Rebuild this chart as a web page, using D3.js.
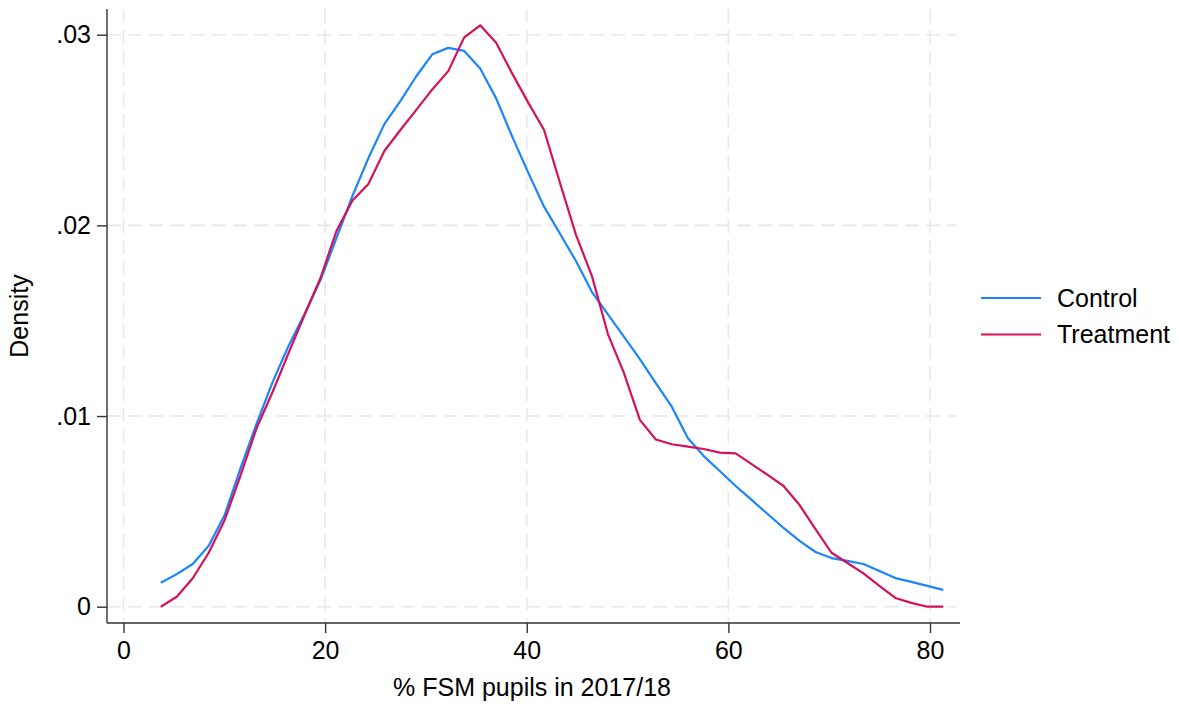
<!DOCTYPE html>
<html>
<head>
<meta charset="utf-8">
<script src="https://cdn.jsdelivr.net/npm/d3@7"></script>
<style>
  html, body { margin: 0; padding: 0; background: #fff; }
  svg { display: block; font-family: "Liberation Sans", Arial, sans-serif; }
</style>
</head>
<body>
<svg id="chart" width="1179" height="704"></svg>
<script>
// Kernel density estimates evaluated on a common grid of 50 points
const gridStart = 3.7;
const gridStep = 1.584;
const gridCount = 50;

const controlDensity = [
  0.00126, 0.00171, 0.00224, 0.00320, 0.00481, 0.00728, 0.00960, 0.01178, 0.01367, 0.01535,
  0.01713, 0.01933, 0.02154, 0.02353, 0.02531, 0.02652, 0.02782, 0.02897, 0.02931, 0.02915,
  0.02823, 0.02666, 0.02467, 0.02278, 0.02098, 0.01956, 0.01813, 0.01650, 0.01533, 0.01416,
  0.01299, 0.01173, 0.01049, 0.00885, 0.00790, 0.00712, 0.00633, 0.00560, 0.00486, 0.00413,
  0.00345, 0.00287, 0.00255, 0.00240, 0.00224, 0.00187, 0.00150, 0.00130, 0.00109, 0.00088
];

const treatmentDensity = [
  0.00000, 0.00052, 0.00149, 0.00283, 0.00455, 0.00690, 0.00937, 0.01126, 0.01330, 0.01530,
  0.01724, 0.01970, 0.02130, 0.02217, 0.02390, 0.02500, 0.02606, 0.02713, 0.02809, 0.02986,
  0.03049, 0.02958, 0.02797, 0.02645, 0.02500, 0.02222, 0.01950, 0.01734, 0.01430, 0.01226,
  0.00980, 0.00877, 0.00852, 0.00840, 0.00827, 0.00808, 0.00804, 0.00748, 0.00691, 0.00633,
  0.00533, 0.00407, 0.00283, 0.00229, 0.00175, 0.00109, 0.00046, 0.00020, 0.00000, 0.00000
];

const xTicks = [0, 20, 40, 60, 80];
const yTicks = [0, 0.01, 0.02, 0.03];
const yTickLabels = ["0", ".01", ".02", ".03"];
const seriesNames = ["Control", "Treatment"];
const seriesColors = ["#1A85FF", "#D41159"];

const svg = d3.select("#chart");

// Plot region
const plot = { left: 107, right: 960, top: 9, bottom: 623 };

const x = d3.scaleLinear().domain([0, 80]).range([123.5, 930]);
const y = d3.scaleLinear().domain([0, 0.03]).range([606.7, 34.7]);

const gridX = d3.range(gridCount).map(i => gridStart + gridStep * i);

// Grid lines
const grid = svg.append("g").attr("stroke", "#e8e8e8").attr("stroke-width", 1.6)
  .attr("stroke-dasharray", "14,7");
grid.selectAll("line.h").data(yTicks).join("line")
  .attr("x1", plot.left).attr("x2", 956)
  .attr("y1", d => y(d)).attr("y2", d => y(d));
grid.selectAll("line.v").data(xTicks).join("line")
  .attr("x1", d => x(d)).attr("x2", d => x(d))
  .attr("y1", plot.top).attr("y2", plot.bottom);

// Density curves
const line = d3.line().x((d, i) => x(gridX[i])).y(d => y(d));
[controlDensity, treatmentDensity].forEach((series, k) => {
  svg.append("path")
    .datum(series)
    .attr("fill", "none")
    .attr("stroke", seriesColors[k])
    .attr("stroke-width", 2.2)
    .attr("stroke-linejoin", "round")
    .attr("d", line);
});

// Axes
const xAxis = d3.axisBottom(x).tickValues(xTicks).tickSize(10).tickPadding(8).tickFormat(d3.format("d"));
const yAxis = d3.axisLeft(y).tickValues(yTicks).tickSize(10).tickPadding(6)
  .tickFormat((d, i) => yTickLabels[i]);

const gx = svg.append("g").attr("transform", `translate(0,${plot.bottom})`).call(xAxis);
const gy = svg.append("g").attr("transform", `translate(${plot.left},0)`).call(yAxis);

[gx, gy].forEach(g => {
  g.select(".domain").remove();
  g.selectAll(".tick line").attr("stroke", "#333").attr("stroke-width", 1.4);
  g.selectAll(".tick text").attr("fill", "#000").style("font-size", "25px")
    .style("font-family", "'Liberation Sans', Arial, sans-serif");
});

svg.append("line").attr("x1", plot.left).attr("x2", plot.right)
  .attr("y1", plot.bottom).attr("y2", plot.bottom)
  .attr("stroke", "#333").attr("stroke-width", 1.4);
svg.append("line").attr("x1", plot.left).attr("x2", plot.left)
  .attr("y1", plot.top).attr("y2", plot.bottom)
  .attr("stroke", "#333").attr("stroke-width", 1.4);

// Axis titles
svg.append("text")
  .attr("x", 532).attr("y", 696)
  .attr("text-anchor", "middle")
  .style("font-size", "25px")
  .text("% FSM pupils in 2017/18");

svg.append("text")
  .attr("transform", "translate(28,316) rotate(-90)")
  .attr("text-anchor", "middle")
  .style("font-size", "25px")
  .text("Density");

// Legend
const legend = svg.append("g").attr("transform", "translate(981,298)");
seriesNames.forEach((name, i) => {
  const row = legend.append("g").attr("transform", `translate(0,${i * 36.5})`);
  row.append("line").attr("x1", 0).attr("x2", 60).attr("y1", 0).attr("y2", 0)
    .attr("stroke", seriesColors[i]).attr("stroke-width", 2.2);
  row.append("text").attr("x", 76).attr("y", 0).attr("dy", "0.35em")
    .style("font-size", "25px").text(name);
});
</script>
</body>
</html>
